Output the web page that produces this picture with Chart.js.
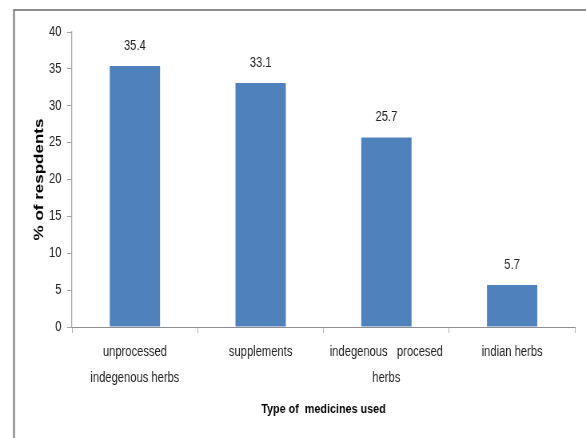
<!DOCTYPE html>
<html>
<head>
<meta charset="utf-8">
<script src="https://cdn.jsdelivr.net/npm/chart.js@4/dist/chart.umd.min.js"></script>
<style>
  html, body { margin: 0; padding: 0; background: #fff; }
  #wrap { position: relative; width: 586px; height: 438px; overflow: hidden; }
</style>
</head>
<body>
<!-- the canvas is drawn wider and shown at 586px, giving the condensed lettering -->
<div id="wrap"><canvas id="c" width="733" height="438" style="display:block;width:586px;height:438px"></canvas></div>
<script>
// Survey results: share of respondents by type of medicine used
const categories = [
  ['unprocessed', 'indegenous herbs'],
  'supplements',
  ['indegenous   procesed', 'herbs'],
  'indian herbs'
];
const percentValues = [35.4, 33.1, 25.7, 5.7];
const yTicks = [0, 5, 10, 15, 20, 25, 30, 35, 40];

// horizontal stretch between the drawing buffer and the shown size
const K = 733 / 586;
const SANS = '"Liberation Sans", Arial, sans-serif';
const AXIS_GREY = '#8e8e8e';
const TEXT = '#222222';

// Outer frame: left and top edges of the chart box
const framePlugin = {
  id: 'frame',
  beforeDraw(chart) {
    const ctx = chart.ctx;
    ctx.save();
    ctx.strokeStyle = '#8c8c8c';
    ctx.lineWidth = 2.5;
    ctx.beginPath();
    ctx.moveTo(14 * K, 438);
    ctx.lineTo(14 * K, 10);
    ctx.stroke();
    ctx.lineWidth = 2;
    ctx.beginPath();
    ctx.moveTo(13 * K, 10);
    ctx.lineTo(chart.width, 10);
    ctx.stroke();
    ctx.restore();
  }
};

// Value labels above each bar
const valueLabelPlugin = {
  id: 'valueLabels',
  afterDatasetsDraw(chart) {
    const ctx = chart.ctx;
    const meta = chart.getDatasetMeta(0);
    const data = chart.data.datasets[0].data;
    ctx.save();
    ctx.font = '14px ' + SANS;
    ctx.fillStyle = TEXT;
    ctx.textAlign = 'center';
    ctx.textBaseline = 'middle';
    meta.data.forEach((bar, i) => {
      ctx.fillText(data[i].toFixed(1), bar.x, bar.y - 20);
    });
    ctx.restore();
  }
};

const PAD = { left: 39, top: 32, right: 733 - 575 * K, bottom: 21 };

new Chart(document.getElementById('c'), {
  type: 'bar',
  data: {
    labels: categories,
    datasets: [{
      data: percentValues,
      backgroundColor: '#4F81BD',
      borderWidth: 0,
      barPercentage: 0.4,
      categoryPercentage: 1.0
    }]
  },
  options: {
    responsive: false,
    animation: false,
    devicePixelRatio: 1,
    layout: { padding: PAD },
    plugins: {
      legend: { display: false },
      tooltip: { enabled: false }
    },
    scales: {
      x: {
        grid: {
          display: true,
          drawOnChartArea: false,
          drawTicks: true,
          tickLength: 6,
          color: '#b4b4b4',
          offset: true
        },
        border: { display: true, color: AXIS_GREY, width: 1 },
        ticks: {
          color: TEXT,
          font: { family: SANS, size: 14, lineHeight: 1.8 },
          padding: 7,
          maxRotation: 0,
          autoSkip: false
        },
        title: {
          display: true,
          text: 'Type of  medicines used',
          color: '#000',
          font: { family: SANS, size: 13.5, weight: 'bold' },
          padding: { top: 0, bottom: 0 }
        },
        afterFit(scale) { scale.height = 438 - 327 - PAD.bottom; }
      },
      y: {
        min: 0,
        max: 40,
        afterBuildTicks(scale) { scale.ticks = yTicks.map(v => ({ value: v })); },
        grid: {
          display: true,
          drawOnChartArea: false,
          drawTicks: true,
          tickLength: 5 * K,
          color: '#a6a6a6'
        },
        border: { display: true, color: '#a6a6a6', width: 1.25 },
        ticks: {
          color: TEXT,
          font: { family: SANS, size: 14 },
          padding: 7
        },
        title: {
          display: true,
          text: '% of respdents',
          color: '#000',
          font: { family: SANS, size: 17, weight: 'bold' },
          padding: { top: 0, bottom: 0 }
        },
        afterFit(scale) { scale.width = 72 * K - PAD.left; }
      }
    }
  },
  plugins: [framePlugin, valueLabelPlugin]
});
</script>
</body>
</html>
